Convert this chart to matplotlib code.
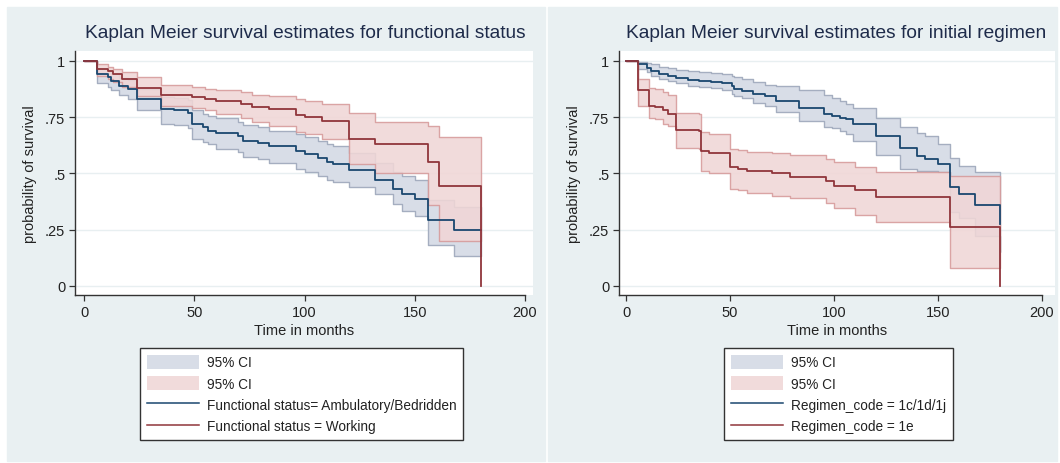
import matplotlib
matplotlib.use('Agg')
import matplotlib.pyplot as plt
from matplotlib.patches import Patch, Rectangle
from matplotlib.lines import Line2D

plt.rcParams['font.family'] = ['Liberation Sans', 'DejaVu Sans']

# ---- left panel: functional status ----
amb_t = [0, 6, 11, 12, 16, 20, 24, 35, 41, 47, 49, 54, 56, 60, 70, 72, 79, 84, 96, 100,
         106, 110, 113, 120, 132, 140, 144, 150, 156, 168, 180]
amb_s = [1, .94, .93, .91, .89, .875, .83, .785, .78, .77, .72, .705, .69, .68, .665, .645,
         .635, .62, .60, .585, .568, .55, .54, .515, .47, .43, .41, .385, .295, .25, .25]
amb_lo = [1, .90, .885, .87, .85, .83, .78, .72, .715, .70, .655, .64, .63, .61, .595, .575,
          .565, .545, .52, .505, .49, .47, .46, .44, .41, .365, .335, .31, .18, .135, .135]
amb_hi = [1, .965, .955, .94, .925, .915, .875, .84, .835, .825, .78, .765, .755, .745, .73,
          .715, .705, .69, .675, .66, .645, .63, .62, .59, .545, .505, .49, .47, .38, .35, .35]

work_t = [0, 6, 11, 13, 17, 24, 35, 49, 55, 60, 71, 76, 84, 96, 100, 108, 120, 132, 156, 161, 180]
work_s = [1, .966, .954, .94, .92, .88, .85, .84, .83, .82, .81, .795, .785, .76, .75, .735,
          .655, .63, .55, .445, 0]
work_hi = [1, .985, .975, .965, .95, .93, .895, .885, .875, .87, .86, .85, .845, .83, .82, .81,
           .77, .73, .71, .66, .66]
work_lo = [1, .935, .92, .905, .885, .845, .80, .79, .78, .765, .745, .73, .71, .685, .675,
           .655, .54, .50, .36, .20, .20]

# ---- right panel: initial regimen ----
reg1_t = [0, 6, 10, 12, 16, 20, 24, 30, 35, 41, 46, 51, 52, 56, 61, 67, 72, 83, 95, 99, 103,
          106, 109, 120, 132, 140, 144, 150, 156, 160, 168, 180]
reg1_s = [1, .985, .97, .955, .94, .935, .925, .915, .91, .905, .90, .89, .875, .865, .855,
          .845, .82, .79, .765, .755, .745, .74, .72, .668, .612, .578, .562, .54, .44, .41,
          .36, .275]
reg1_hi = [1, .995, .99, .985, .975, .97, .96, .955, .95, .945, .94, .935, .93, .92, .905,
           .895, .89, .872, .847, .835, .824, .81, .79, .746, .706, .68, .665, .63, .57, .535,
           .505, .505]
reg1_lo = [1, .965, .95, .935, .92, .91, .90, .89, .885, .878, .87, .855, .845, .835, .815,
           .80, .773, .735, .706, .70, .69, .676, .646, .58, .52, .51, .51, .505, .33, .30,
           .22, .15]

reg2_t = [0, 6, 11, 14, 18, 20, 24, 35, 36, 40, 50, 54, 58, 70, 79, 96, 100, 110, 120, 156, 180]
reg2_s = [1, .87, .80, .795, .78, .765, .695, .69, .60, .59, .527, .52, .51, .50, .485, .465,
          .445, .425, .395, .26, 0]
reg2_hi = [1, .92, .88, .875, .86, .85, .77, .765, .685, .675, .61, .605, .595, .59, .58,
           .565, .55, .53, .505, .49, .49]
reg2_lo = [1, .80, .745, .74, .72, .71, .612, .61, .512, .50, .43, .425, .415, .40, .39, .37,
           .345, .315, .285, .08, .08]

yticks = [0, .25, .5, .75, 1]
ytick_labels = ['0', '.25', '.5', '.75', '1']
xticks = [0, 50, 100, 150, 200]

W, H = 1060, 464
bg = '#e9f0f2'
blue_line = '#1a476f'
red_line = '#90353b'
blue_fill, blue_edge = '#d8dde7', '#a5aec0'
pink_fill, pink_edge = '#f0d6d6', '#d69a9a'
txt = '#222222'


def box(x0, y0, x1, y1):
    return [x0 / W, 1 - y1 / H, (x1 - x0) / W, (y1 - y0) / H]


def panel(ax, xlim, a, b, title, tx, labels, leg_x):
    ax.set_facecolor('white')
    ax.set_xlim(xlim)
    ax.set_ylim(-0.04, 1.044)
    for y in yticks:
        ax.axhline(y, color='#e8eff1', lw=1, zorder=0)
    ax.fill_between(a[0], a[2], a[3], step='post', facecolor=blue_fill,
                    edgecolor=blue_edge, lw=1, zorder=1)
    ax.fill_between(b[0], b[2], b[3], step='post', facecolor=pink_fill,
                    edgecolor=pink_edge, lw=1, alpha=0.88, zorder=2)
    ax.plot(a[0], a[1], drawstyle='steps-post', color=blue_line, lw=1.3, zorder=4)
    ax.plot(b[0], b[1], drawstyle='steps-post', color=red_line, lw=1.3, zorder=4)

    for s in ['top', 'right']:
        ax.spines[s].set_visible(False)
    ax.spines['bottom'].set_bounds(xlim[0], 200)
    for s in ['left', 'bottom']:
        ax.spines[s].set_color('#333333')
        ax.spines[s].set_linewidth(1)
    ax.set_xticks(xticks)
    ax.set_yticks(yticks)
    ax.set_yticklabels(ytick_labels)
    ax.tick_params(direction='out', length=4, width=0.9, color='#333333',
                   labelsize=10.5, labelcolor=txt, pad=3)
    ax.set_xlabel('Time in months', fontsize=10.5, color=txt, labelpad=3)
    ax.set_ylabel('probability of survival', fontsize=10.5, color=txt, labelpad=6)

    fig.text(tx / W, 1 - 33 / H, title, ha='center', va='center',
             fontsize=13.8, color='#1e2b4a')

    handles = [Patch(facecolor=blue_fill, edgecolor='none'),
               Patch(facecolor=pink_fill, edgecolor='none', alpha=0.88),
               Line2D([], [], color=blue_line, lw=1.1),
               Line2D([], [], color=red_line, lw=1.1)]
    leg = fig.legend(handles, ['95% CI', '95% CI'] + labels, loc='upper left',
                     bbox_to_anchor=(leg_x / W, 1 - 349 / H), fontsize=9.8,
                     frameon=True, fancybox=False, edgecolor='#333333', framealpha=1,
                     handlelength=3.8, handleheight=1.2, handletextpad=0.6,
                     labelspacing=0.5, borderpad=0.5, borderaxespad=0)
    leg.get_frame().set_linewidth(1)
    for t in leg.get_texts():
        t.set_color(txt)


fig = plt.figure(figsize=(W / 100, H / 100), dpi=100)
fig.patches.append(Rectangle((7 / W, 1 - 462 / H), (545 - 7) / W, (462 - 8) / H,
                             transform=fig.transFigure, color=bg, zorder=-5))
fig.patches.append(Rectangle((548 / W, 1 - 462 / H), (1057 - 548) / W, (462 - 8) / H,
                             transform=fig.transFigure, color=bg, zorder=-5))

ax1 = fig.add_axes(box(75, 52, 533, 296))
panel(ax1, (-4.1, 203.6),
      (amb_t, amb_s, amb_lo, amb_hi), (work_t, work_s, work_lo, work_hi),
      'Kaplan Meier survival estimates for functional status', 305,
      ['Functional status= Ambulatory/Bedridden', 'Functional status = Working'], 140)

ax2 = fig.add_axes(box(619, 52, 1055, 296))
panel(ax2, (-3.37, 206.3),
      (reg1_t, reg1_s, reg1_lo, reg1_hi), (reg2_t, reg2_s, reg2_lo, reg2_hi),
      'Kaplan Meier survival estimates for initial regimen', 836,
      ['Regimen_code = 1c/1d/1j', 'Regimen_code = 1e'], 724)

fig.savefig('out.png', dpi=100)
